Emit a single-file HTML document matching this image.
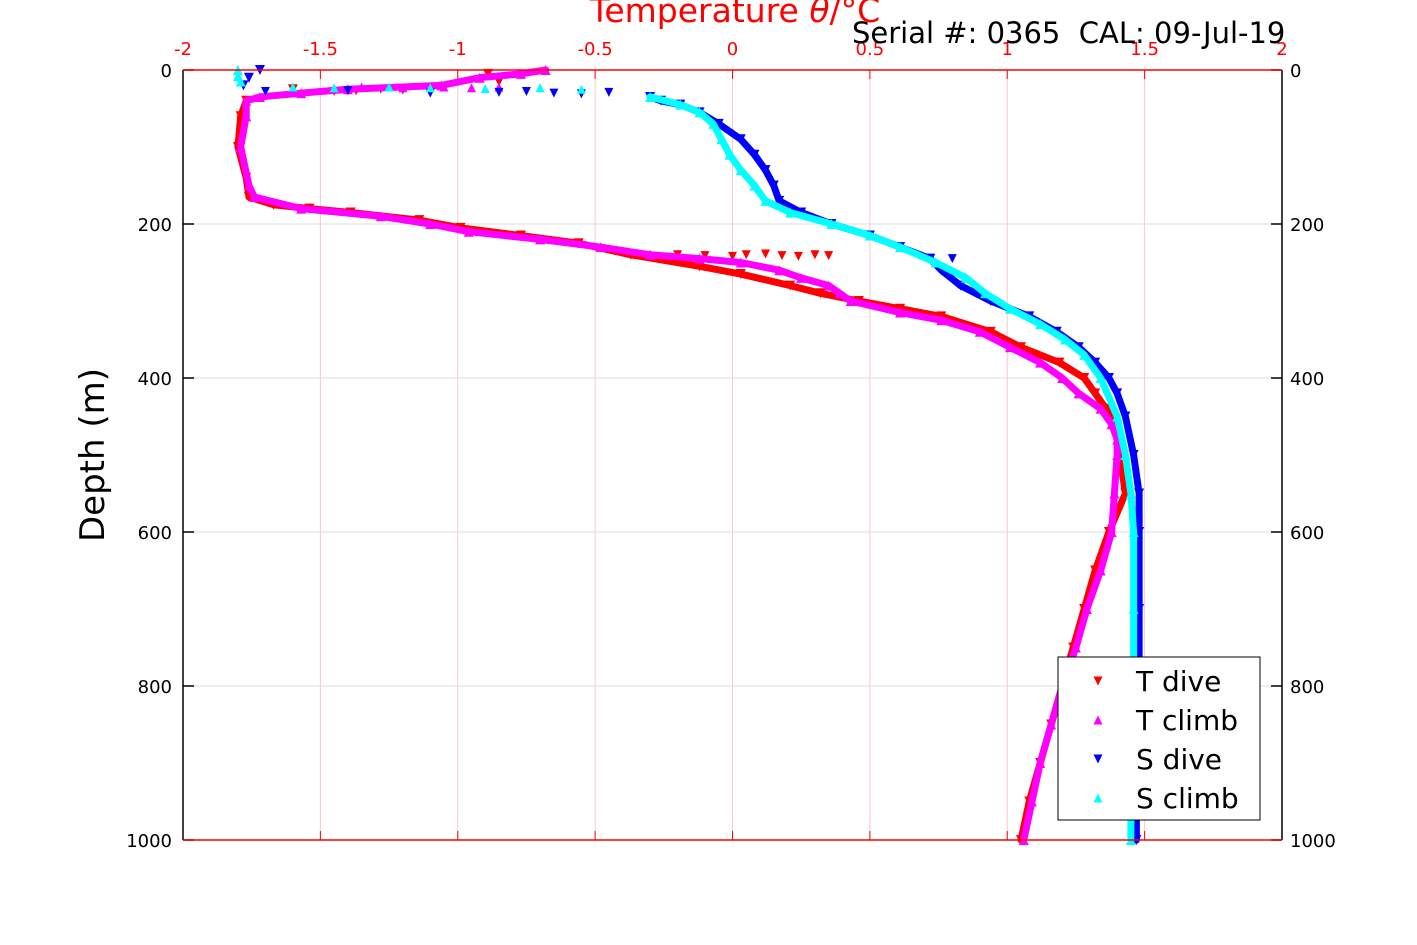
<!DOCTYPE html>
<html><head><meta charset="utf-8"><style>
body{margin:0;background:#fff;}
svg{display:block;font-family:"DejaVu Sans","Liberation Sans",sans-serif;}
</style></head><body>
<svg id="chart" width="1417" height="945" viewBox="0 0 1417 945" xmlns="http://www.w3.org/2000/svg">
<g id="grid"></g>
<g id="series"></g>
<g id="axes"></g>
<text x="735" y="22" text-anchor="middle" font-size="33" fill="#f00">Temperature <tspan font-style="italic">θ</tspan>/°C</text>
<text x="852" y="43" font-size="29" fill="#000" xml:space="preserve">Serial #: 0365  CAL: 09-Jul-19</text>
<text transform="translate(104,455) rotate(-90)" text-anchor="middle" font-size="34" fill="#000">Depth (m)</text>
<g>
<rect x="1058" y="657" width="202" height="163" fill="#fff" stroke="#000" stroke-width="1"/>
<g id="legend-items"></g>
</g>
</svg>
<script>
const xTicks=[-2,-1.5,-1,-0.5,0,0.5,1,1.5,2];
const xTickLabels=["-2","-1.5","-1","-0.5","0","0.5","1","1.5","2"];
const yTicks=[0,200,400,600,800,1000];
const yTickLabels=["0","200","400","600","800","1000"];
const seriesNames=["T dive","T climb","S dive","S climb"];
const seriesColors=["#f00","#f0f","#00f","#0ff"];
// T dive
const tDiveDepth=[5,15,25,40,60,100,140,165,175,180,185,195,205,215,225,240,255,265,280,290,300,310,320,340,360,380,400,420,440,460,500,550,600,650,700,750,800,850,900,950,1000];
const tDiveTemp=[-0.89,-0.85,-1.60,-1.77,-1.79,-1.80,-1.77,-1.76,-1.67,-1.54,-1.39,-1.14,-0.99,-0.77,-0.56,-0.37,-0.12,0.03,0.21,0.32,0.46,0.61,0.76,0.94,1.05,1.19,1.28,1.32,1.36,1.39,1.41,1.43,1.37,1.32,1.28,1.24,1.20,1.16,1.12,1.08,1.05];
const tDiveScatterDepth=[28,27,25,26,240,241,242,240,239,241,242,240,241];
const tDiveScatterTemp=[-1.45,-1.37,-1.28,-1.20,-0.20,-0.10,0.0,0.05,0.12,0.18,0.24,0.30,0.35];
// T climb
const tClimbDepth=[0,5,10,20,25,30,35,40,60,100,150,165,180,190,200,210,220,230,240,245,250,260,270,280,290,300,315,325,340,360,380,400,420,440,460,480,500,550,600,650,700,750,800,850,900,950,1000];
const tClimbTemp=[-0.68,-0.77,-0.92,-1.06,-1.40,-1.57,-1.72,-1.77,-1.77,-1.79,-1.76,-1.74,-1.57,-1.28,-1.10,-0.96,-0.70,-0.48,-0.30,-0.12,0.03,0.17,0.25,0.35,0.39,0.43,0.61,0.76,0.90,1.01,1.12,1.20,1.26,1.34,1.38,1.40,1.40,1.39,1.38,1.34,1.29,1.25,1.20,1.16,1.12,1.09,1.06];
const tClimbScatterDepth=[22,23,22,23,22];
const tClimbScatterTemp=[-1.35,-1.20,-1.05,-0.95,-0.85];
// S dive
const sDiveDepth=[0,10,20,35,40,45,55,70,90,110,130,150,170,185,200,215,230,245,260,280,300,320,340,360,380,400,420,450,500,550,600,700,800,900,1000];
const sDiveVal=[-1.72,-1.76,-1.78,-0.30,-0.26,-0.19,-0.12,-0.05,0.03,0.08,0.12,0.15,0.17,0.25,0.36,0.50,0.61,0.72,0.76,0.83,0.94,1.08,1.18,1.26,1.32,1.37,1.40,1.43,1.46,1.48,1.48,1.48,1.48,1.47,1.47];
const sDiveScatterDepth=[28,27,30,29,28,30,31,29,245];
const sDiveScatterVal=[-1.70,-1.40,-1.10,-0.85,-0.75,-0.65,-0.55,-0.45,0.80];
// S climb
const sClimbDepth=[0,8,15,35,45,55,70,90,110,130,150,170,185,200,215,230,250,270,290,310,330,350,370,400,450,500,550,600,700,800,900,1000];
const sClimbVal=[-1.80,-1.80,-1.79,-0.30,-0.19,-0.12,-0.07,-0.04,-0.01,0.03,0.08,0.12,0.21,0.36,0.50,0.61,0.74,0.85,0.92,1.01,1.12,1.21,1.28,1.34,1.40,1.43,1.45,1.46,1.46,1.46,1.45,1.45];
const sClimbScatterDepth=[22,23,22,23,24,23,25];
const sClimbScatterVal=[-1.60,-1.45,-1.25,-1.10,-0.90,-0.70,-0.55];

const L=183,R=1282,T=70,B=840;
const xs=v=>L+(v+2)/4*(R-L);
const ys=d=>T+d/1000*(B-T);
const NS="http://www.w3.org/2000/svg";
function mk(tag,attrs,parent){const e=document.createElementNS(NS,tag);for(const k in attrs)e.setAttribute(k,attrs[k]);parent.appendChild(e);return e;}
const grid=document.getElementById('grid'),axes=document.getElementById('axes'),ser=document.getElementById('series');

xTicks.forEach((v,i)=>{
  const gl=mk('line',{x1:xs(v),x2:xs(v),y1:T,y2:B,stroke:'#f6caca','stroke-width':1},grid);
  
  
  const tk=mk('line',{x1:xs(v),x2:xs(v),y1:T,y2:T+9,stroke:'#f00','stroke-width':1},axes);
  
  
  const tb=mk('line',{x1:xs(v),x2:xs(v),y1:B,y2:B-9,stroke:'#f00','stroke-width':1},axes);
  
  
  const t=mk('text',{x:xs(v),y:55,'text-anchor':'middle','font-size':18,fill:'#f00'},axes);
  t.textContent=xTickLabels[i];
  
  
});
yTicks.forEach((v,i)=>{
  const gl=mk('line',{x1:L,x2:R,y1:ys(v),y2:ys(v),stroke:'#ddd','stroke-width':1},grid);
  
  
  const tl=mk('line',{x1:L,x2:L+11,y1:ys(v),y2:ys(v),stroke:'#000','stroke-width':1.5},axes);
  
  
  const tr=mk('line',{x1:R,x2:R-11,y1:ys(v),y2:ys(v),stroke:'#000','stroke-width':1.5},axes);
  
  
  const a=mk('text',{x:172,y:ys(v)+7,'text-anchor':'end','font-size':18,fill:'#000'},axes);
  a.textContent=yTickLabels[i];
  
  
  const b=mk('text',{x:1290,y:ys(v)+7,'font-size':18,fill:'#000'},axes);
  b.textContent=yTickLabels[i];
  
  
});
const ax1=mk('line',{x1:L,x2:L,y1:T,y2:B,stroke:'#000','stroke-width':1.5},axes);


const ax2=mk('line',{x1:R,x2:R,y1:T,y2:B,stroke:'#000','stroke-width':1.5},axes);


const ax3=mk('line',{x1:L,x2:R,y1:T,y2:T,stroke:'#f00','stroke-width':1.5},axes);


const ax4=mk('line',{x1:L,x2:R,y1:B,y2:B,stroke:'#f00','stroke-width':1.5},axes);



function tri(x,y,down,size){const h=size;return down?`${x-h/2},${y-h/2} ${x+h/2},${y-h/2} ${x},${y+h/2}`:`${x-h/2},${y+h/2} ${x+h/2},${y+h/2} ${x},${y-h/2}`;}
function drawSeries(depths,vals,sd,sv,color,down,name,breakIdx){
  const g=mk('g',{},ser);
  
  
  const pts=depths.map((d,i)=>xs(vals[i])+','+ys(d));
  const main=pts.slice(breakIdx);
  const pl=mk('polyline',{points:main.join(' '),fill:'none',stroke:color,'stroke-width':7,'stroke-linejoin':'round','stroke-linecap':'round'},g);
  
  
  depths.forEach((d,i)=>{
    const p=mk('polygon',{points:tri(xs(vals[i]),ys(d),down,10),fill:color},g);
    
    
  });
  sd.forEach((d,i)=>{
    const p=mk('polygon',{points:tri(xs(sv[i]),ys(d),down,9),fill:color},g);
    
    
  });
}
drawSeries(tDiveDepth,tDiveTemp,tDiveScatterDepth,tDiveScatterTemp,seriesColors[0],true,'t-dive',3);
drawSeries(tClimbDepth,tClimbTemp,tClimbScatterDepth,tClimbScatterTemp,seriesColors[1],false,'t-climb',0);
drawSeries(sDiveDepth,sDiveVal,sDiveScatterDepth,sDiveScatterVal,seriesColors[2],true,'s-dive',3);
drawSeries(sClimbDepth,sClimbVal,sClimbScatterDepth,sClimbScatterVal,seriesColors[3],false,'s-climb',3);

const li=document.getElementById('legend-items');
seriesNames.forEach((n,i)=>{
  const y=681+i*39;
  const p=mk('polygon',{points:tri(1098,y,i%2===0,9),fill:seriesColors[i]},li);
  
  
  const t=mk('text',{x:1136,y:y+10,'font-size':28,fill:'#000'},li);
  t.textContent=n;
  
  
});
</script>
</body></html>
